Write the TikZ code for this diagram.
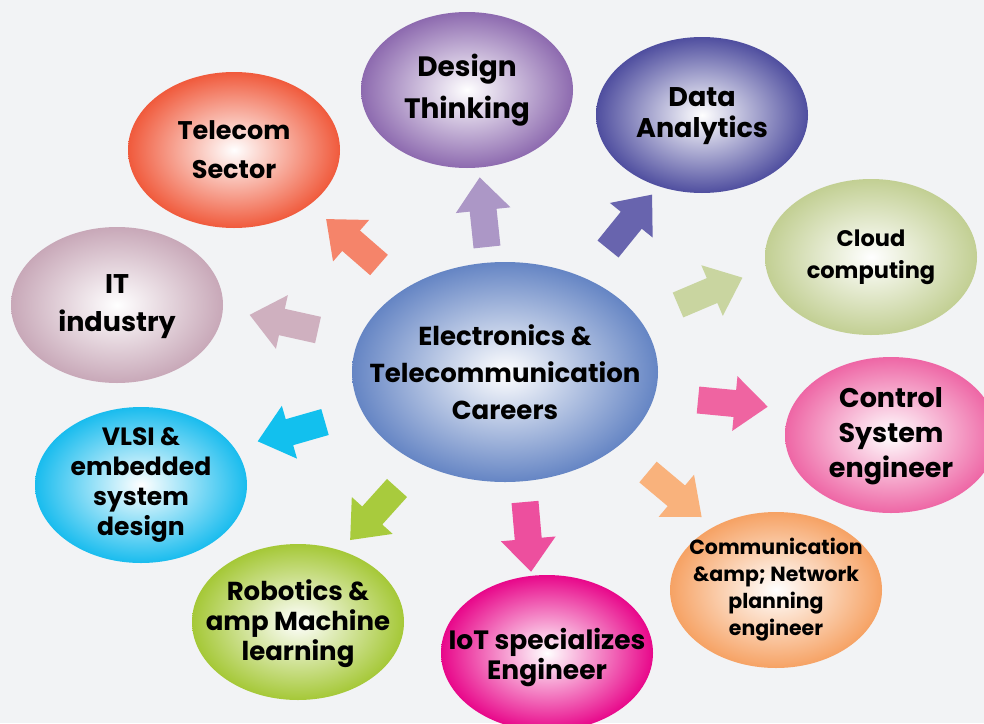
\documentclass[tikz,border=0pt]{standalone}
\usepackage{fontspec}
\setmainfont{Poppins}
\usetikzlibrary{shapes.geometric}
\definecolor{bgC}{HTML}{F2F3F5}
\definecolor{hubC}{HTML}{6585C4}
\definecolor{teleC}{HTML}{F05A3C}
\definecolor{teleA}{HTML}{F5846A}
\definecolor{desiC}{HTML}{8D6AAF}
\definecolor{desiA}{HTML}{AC97C6}
\definecolor{dataC}{HTML}{4F4E9F}
\definecolor{dataA}{HTML}{6864AE}
\definecolor{clouC}{HTML}{C2CF93}
\definecolor{clouA}{HTML}{C9D5A0}
\definecolor{itC}{HTML}{C8A8B8}
\definecolor{itA}{HTML}{CFB0BF}
\definecolor{ctrlC}{HTML}{EE66A5}
\definecolor{ctrlA}{HTML}{EF64A1}
\definecolor{commC}{HTML}{F6A264}
\definecolor{commA}{HTML}{F9B27C}
\definecolor{iotC}{HTML}{E8078A}
\definecolor{iotA}{HTML}{ED4F9E}
\definecolor{roboC}{HTML}{A5C837}
\definecolor{roboA}{HTML}{A8CB3D}
\definecolor{vlsiC}{HTML}{19BCEE}
\definecolor{vlsiA}{HTML}{12C0EE}
\tikzset{
  bub/.style={ellipse, inner sep=0pt, minimum width=212, minimum height=156,
    shade, inner color=white},
  bigbub/.style={bub, minimum width=306, minimum height=220},
  bubtext/.style={align=center, inner sep=0pt},
  blkarrow/.pic={
    \fill (0,-13.5) -- (37,-13.5) -- (37,-27.5) -- (70,0) -- (37,27.5)
      -- (37,13.5) -- (0,13.5) -- cycle;
  }
}
\newcommand{\bubsize}[2]{\fontsize{#1}{#2}\selectfont\bfseries}
\begin{document}
\begin{tikzpicture}[x=1pt, y=-1pt]
  \fill[bgC] (0,0) rectangle (984,723);
  \useasboundingbox (0,0) rectangle (984,723);
  % career bubbles
  \node[bigbub, outer color=hubC] (hub) at (505,372) {};
  \node[bub, outer color=teleC] (tele) at (234,150) {};
  \node[bub, outer color=desiC] (desi) at (467,90) {};
  \node[bub, outer color=dataC] (data) at (702,115) {};
  \node[bub, outer color=clouC] (clou) at (871,257) {};
  \node[bub, outer color=itC] (it) at (117,305) {};
  \node[bub, outer color=ctrlC] (ctrl) at (891,435) {};
  \node[bub, outer color=commC] (comm) at (776,590) {};
  \node[bub, outer color=iotC] (iot) at (547,653) {};
  \node[bub, outer color=roboC] (robo) at (298,622) {};
  \node[bub, outer color=vlsiC] (vlsi) at (141,485) {};
  % texts
  \node[bubtext, font=\bubsize{26}{37}] (hubt) at (hub) {Electronics \&\\Telecommunication\\Careers};
  \node[bubtext, font=\bubsize{25.5}{39}] (telet) at (tele) {Telecom\\Sector};
  \node[bubtext, font=\bubsize{28}{42}] (desit) at (desi) {Design\\Thinking};
  \node[bubtext, font=\bubsize{27}{31}] (datat) at ([yshift=-1]data) {Data\\Analytics};
  \node[bubtext, font=\bubsize{22.5}{32}] (clout) at (clou) {Cloud\\computing};
  \node[bubtext, font=\bubsize{27}{38}] (itt) at ([yshift=-2]it) {IT\\industry};
  \node[bubtext, font=\bubsize{27}{35}] (ctrlt) at ([yshift=-1]ctrl) {Control\\System\\engineer};
  \node[bubtext, font=\bubsize{20.5}{27}] (commt) at (comm) {Communication\\\&amp; Network\\planning\\engineer};
  \node[bubtext, font=\bubsize{26.5}{30}] (iott) at ([yshift=-5]iot) {IoT specializes\\Engineer};
  \node[bubtext, font=\bubsize{26}{30}] (robot) at ([yshift=-2]robo) {Robotics \&\\amp Machine\\learning};
  \node[bubtext, font=\bubsize{25}{30}] (vlsit) at (vlsi) {VLSI \&\\embedded\\system\\design};
  % block arrows from the hub
  \begin{scope}
    \pic[fill=teleA, rotate=139] at (379,265) {blkarrow};
    \pic[fill=desiA, rotate=96] at (487,247) {blkarrow};
    \pic[fill=dataA, rotate=51] at (608,249) {blkarrow};
    \pic[fill=clouA, rotate=23] at (678,305) {blkarrow};
    \pic[fill=itA, rotate=167.5] at (318,330) {blkarrow};
    \pic[fill=ctrlA, rotate=-5.5] at (698,400) {blkarrow};
    \pic[fill=commA, rotate=-40] at (648,472) {blkarrow};
    \pic[fill=iotA, rotate=-85] at (525,502) {blkarrow};
    \pic[fill=roboA, rotate=-132] at (397,488) {blkarrow};
    \pic[fill=vlsiA, rotate=-164] at (325,422) {blkarrow};
  \end{scope}
\end{tikzpicture}
\end{document}
